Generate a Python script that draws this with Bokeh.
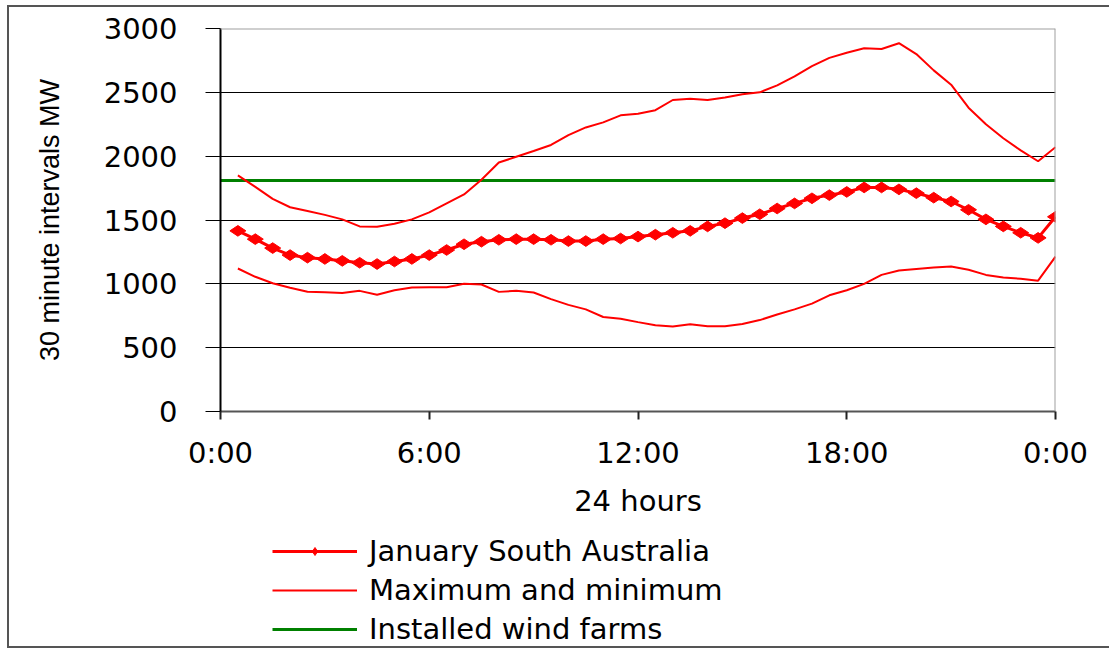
import math
from bokeh.plotting import figure
from bokeh.layouts import column
from bokeh.models import Range1d, FixedTicker, Legend, LegendItem, Span
from bokeh.embed import file_html
from bokeh.resources import INLINE

# ---- data ----
hours = [0.5, 1.0, 1.5, 2.0, 2.5, 3.0, 3.5, 4.0, 4.5, 5.0, 5.5, 6.0,
         6.5, 7.0, 7.5, 8.0, 8.5, 9.0, 9.5, 10.0, 10.5, 11.0, 11.5, 12.0,
         12.5, 13.0, 13.5, 14.0, 14.5, 15.0, 15.5, 16.0, 16.5, 17.0, 17.5, 18.0,
         18.5, 19.0, 19.5, 20.0, 20.5, 21.0, 21.5, 22.0, 22.5, 23.0, 23.5, 24.0]

january_sa = [1415, 1350, 1280, 1225, 1205, 1195, 1180, 1165, 1155, 1175, 1195, 1225,
              1265, 1310, 1330, 1345, 1350, 1350, 1345, 1335, 1335, 1350, 1355, 1370,
              1385, 1400, 1415, 1450, 1475, 1515, 1545, 1590, 1630, 1670, 1695, 1720,
              1755, 1755, 1740, 1710, 1675, 1645, 1580, 1505, 1450, 1400, 1360, 1525]

maximum = [1850, 1760, 1665, 1600, 1570, 1540, 1505, 1450, 1448, 1470, 1505, 1560,
           1630, 1700, 1815, 1950, 1995, 2040, 2088, 2165, 2225, 2265, 2320, 2332,
           2360, 2440, 2450, 2440, 2460, 2485, 2500, 2555, 2625, 2705, 2770, 2810,
           2845, 2840, 2885, 2800, 2672, 2560, 2380, 2250, 2140, 2045, 1960, 2070]

minimum = [1120, 1055, 1005, 970, 938, 935, 928, 945, 915, 950, 972, 974,
           974, 1000, 995, 937, 945, 932, 880, 835, 800, 740, 727, 700,
           675, 665, 683, 667, 667, 685, 716, 760, 800, 845, 910, 950,
           1000, 1070, 1105, 1117, 1127, 1135, 1110, 1070, 1050, 1040, 1025, 1213]

wind_hours = [0, 24]
wind_installed = [1810, 1810]

y_ticks = [0, 500, 1000, 1500, 2000, 2500, 3000]
x_ticks = [0, 6, 12, 18, 24]
x_tick_labels = ["0:00", "6:00", "12:00", "18:00", "0:00"]

labels = ["January South Australia", "Maximum and minimum", "Installed wind farms"]

FONT = "DejaVu Sans"
FS = "29px"
RED = "#ff0000"
GREEN = "#008000"
main_line_style = dict(line_color=RED, line_width=3)
main_pts_style = dict(marker="diamond", size=16, angle=math.pi / 2,
                      fill_color=RED, line_color=RED)
range_style = dict(line_color=RED, line_width=2)
wind_style = dict(line_color=GREEN, line_width=3)

# ---------------- chart ----------------
p = figure(width=1100, height=513, output_backend="svg", toolbar_location=None,
           x_range=Range1d(0, 24), y_range=Range1d(0, 3000),
           min_border_left=211, min_border_right=54, min_border_top=21,
           min_border_bottom=108)
p.background_fill_color = "white"
p.border_fill_color = "white"
p.outline_line_color = None

p.xaxis.ticker = FixedTicker(ticks=x_ticks)
p.xaxis.major_label_overrides = {t: l for t, l in zip(x_ticks, x_tick_labels)}
p.xaxis.minor_tick_line_color = None
p.xaxis.major_tick_out = 8
p.xaxis.major_tick_in = 0
p.xaxis.major_tick_line_color = "#222222"
p.xaxis.major_tick_line_width = 2
p.xaxis.axis_line_color = "#555555"
p.xaxis.axis_line_width = 2
p.xaxis.major_label_text_font = FONT
p.xaxis.major_label_text_font_size = FS
p.xaxis.major_label_text_color = "black"
p.xaxis.major_label_standoff = 16
p.xaxis.axis_label = "24 hours"
p.xaxis.axis_label_text_font = FONT
p.xaxis.axis_label_text_font_size = FS
p.xaxis.axis_label_text_font_style = "normal"
p.xaxis.axis_label_text_color = "black"
p.xaxis.axis_label_standoff = 11

p.yaxis.ticker = FixedTicker(ticks=y_ticks)
p.yaxis.minor_tick_line_color = None
p.yaxis.major_tick_out = 15
p.yaxis.major_tick_in = 0
p.yaxis.major_tick_line_color = "black"
p.yaxis.major_tick_line_width = 1
p.yaxis.axis_line_color = "black"
p.yaxis.axis_line_width = 2
p.yaxis.major_label_text_font = FONT
p.yaxis.major_label_text_font_size = FS
p.yaxis.major_label_text_color = "black"
p.yaxis.major_label_standoff = 28
p.yaxis.axis_label = "30 minute intervals MW"
p.yaxis.axis_label_text_font = "Liberation Sans"
p.yaxis.axis_label_text_font_size = "27px"
p.yaxis.axis_label_text_font_style = "normal"
p.yaxis.axis_label_text_color = "black"
p.yaxis.axis_label_standoff = 36

p.xgrid.grid_line_color = None
p.ygrid.ticker = FixedTicker(ticks=y_ticks)
p.ygrid.grid_line_color = "black"
p.ygrid.grid_line_width = 1

p.add_layout(Span(location=3000, dimension="width", line_color="#a0a0a0", line_width=2))
p.add_layout(Span(location=24, dimension="height", line_color="#a0a0a0", line_width=2))

p.line(wind_hours, wind_installed, **wind_style)
p.line(hours, maximum, **range_style)
p.line(hours, minimum, **range_style)
p.line(hours, january_sa, **main_line_style)
p.scatter(hours, january_sa, **main_pts_style)

# ---------------- legend strip ----------------
# its own ranges are far from the data, so its renderers only supply legend samples
lg = figure(width=1100, height=126, output_backend="svg", toolbar_location=None,
            x_range=Range1d(100, 101), y_range=Range1d(0, 1),
            x_axis_type=None, y_axis_type=None,
            min_border_left=211, min_border_right=54, min_border_top=0,
            min_border_bottom=0)
lg.outline_line_color = None
lg.background_fill_color = "white"
lg.border_fill_color = "white"
k_main = lg.line(hours, january_sa, **main_line_style)
k_pts = lg.scatter(hours, january_sa, **main_pts_style)
k_range = lg.line(hours, maximum, **range_style)
k_wind = lg.line(wind_hours, wind_installed, **wind_style)

legend = Legend(items=[LegendItem(label=labels[0], renderers=[k_main, k_pts]),
                       LegendItem(label=labels[1], renderers=[k_range]),
                       LegendItem(label=labels[2], renderers=[k_wind])],
                location=(52, 0), orientation="vertical",
                glyph_width=85, glyph_height=20, label_standoff=12,
                spacing=5, padding=0, margin=0,
                label_text_font=FONT, label_text_font_size=FS,
                label_text_color="black", border_line_color=None,
                background_fill_alpha=0)
lg.add_layout(legend, "center")

page = column(p, lg, spacing=0,
              styles={"box-sizing": "content-box", "width": "1100px",
                      "border-top": "2px solid #555555", "border-left": "2px solid #555555",
                      "border-bottom": "2px solid #555555", "border-right": "0px none",
                      "margin-left": "7px", "margin-top": "5px"})

open("out.html", "w").write(file_html(page, INLINE))
